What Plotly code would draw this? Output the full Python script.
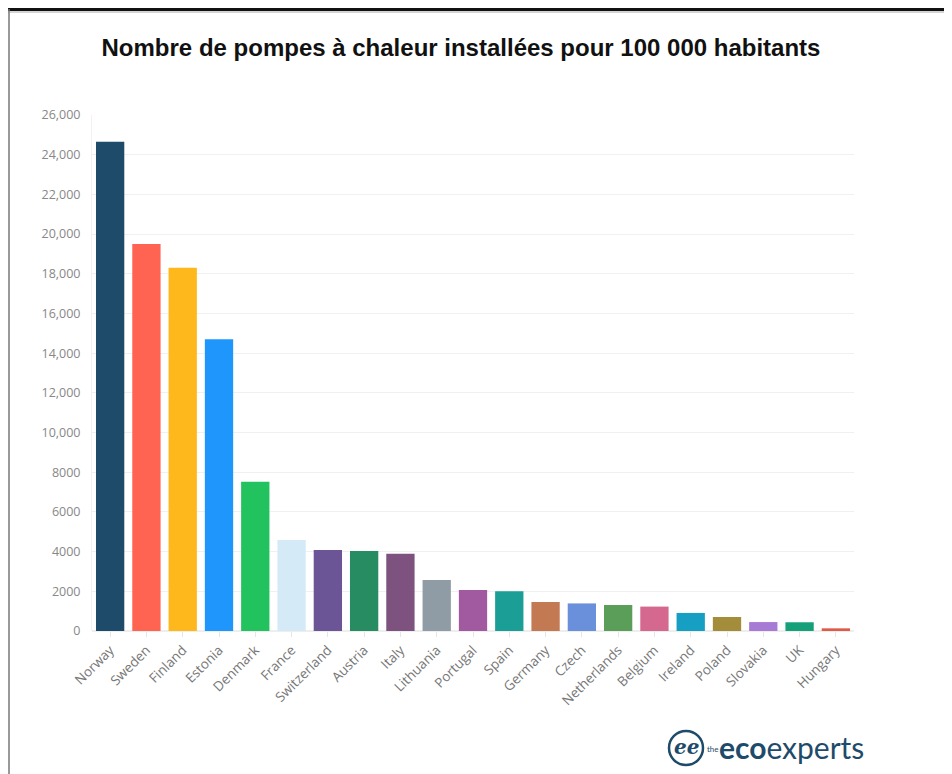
import plotly.graph_objects as go

countries = ["Norway", "Sweden", "Finland", "Estonia", "Denmark", "France", "Switzerland",
             "Austria", "Italy", "Lithuania", "Portugal", "Spain", "Germany", "Czech",
             "Netherlands", "Belgium", "Ireland", "Poland", "Slovakia", "UK", "Hungary"]
values = [24650, 19500, 18300, 14700, 7520, 4580, 4080, 4030, 3890, 2570, 2065, 2000,
          1460, 1390, 1310, 1230, 910, 705, 450, 440, 135]
colors = ["#1f4b6b", "#ff6352", "#ffb81c", "#1e96fc", "#22c35e", "#d4eaf7", "#6c5596",
          "#278c62", "#7d527f", "#8f9ba5", "#a15aa0", "#1a9e96", "#c37a52", "#6a8fdb",
          "#5a9e5a", "#d4688e", "#179fc3", "#a38d3a", "#a77ad6", "#16a07a", "#e05a4a"]
tick_vals = list(range(0, 26001, 2000))
tick_text = ["0", "2000", "4000", "6000", "8000", "10,000", "12,000", "14,000", "16,000",
             "18,000", "20,000", "22,000", "24,000", "26,000"]
title = "Nombre de pompes à chaleur installées pour 100 000 habitants"

OFF = 8  # page body margin
W, H = 952 - OFF, 774 - OFF
L, R, T, B = 92 - OFF, 854 - OFF, 115 - OFF, 631 - OFF


def px(x):
    return (x - OFF - L) / (R - L)


def py(y):
    return (B - (y - OFF)) / (B - T)


fig = go.Figure(go.Bar(x=countries, y=values, marker=dict(color=colors, line=dict(width=0)),
                       showlegend=False))

fig.update_layout(
    width=W, height=H,
    margin=dict(l=L, r=W - R, t=T, b=H - B, autoexpand=False),
    plot_bgcolor="white", paper_bgcolor="white",
    bargap=0.22,
    font=dict(family="Open Sans", color="#777"),
    title=dict(text="<b>" + title + "</b>", x=(461 - OFF) / W, xanchor="center",
               y=1 - (48 - OFF) / H, yanchor="middle",
               font=dict(family="Liberation Sans", size=24, color="#111")),
    xaxis=dict(type="category", tickangle=-45, tickfont=dict(size=13.5, color="#777"),
               ticks="outside", ticklen=5, tickcolor="#e6e6e6", showgrid=False,
               showline=False, zeroline=False),
    yaxis=dict(range=[0, 26000], tickvals=tick_vals, ticktext=tick_text,
               tickfont=dict(size=12.5, color="#888"), showgrid=True, gridcolor="#f0f0f0",
               gridwidth=1, ticks="outside", ticklen=8, tickcolor="white",
               showline=True, linecolor="#f2f2f2", zeroline=True, zerolinecolor="#eeeeee"),
    shapes=[
        dict(type="line", xref="paper", yref="paper", x0=px(8), x1=px(952), y0=py(9.5), y1=py(9.5),
             line=dict(color="#111", width=3)),
        dict(type="line", xref="paper", yref="paper", x0=px(8), x1=px(952), y0=py(12), y1=py(12),
             line=dict(color="#aaa", width=1)),
        dict(type="line", xref="paper", yref="paper", x0=px(9), x1=px(9), y0=py(9), y1=py(774),
             line=dict(color="#777", width=1.5)),
        dict(type="circle", xref="paper", yref="paper", x0=px(669), x1=px(703), y0=py(731), y1=py(765),
             line=dict(color="#1f4b6b", width=2.5)),
    ],
    annotations=[
        dict(text="<i><b>ee</b></i>", xref="paper", yref="paper", x=px(686), y=py(747),
             xanchor="center", yanchor="middle", showarrow=False,
             font=dict(family="DejaVu Serif", size=20, color="#1f4b6b")),
        dict(text="the", xref="paper", yref="paper", x=px(705), y=py(749),
             xanchor="left", yanchor="middle", showarrow=False,
             font=dict(family="Lato", size=8, color="#1f4b6b")),
        dict(text="<b>eco</b>experts", xref="paper", yref="paper", x=px(717), y=py(747),
             xanchor="left", yanchor="middle", showarrow=False,
             font=dict(family="Lato", size=30, color="#1f4b6b")),
    ],
)

fig.write_html("out.html")
